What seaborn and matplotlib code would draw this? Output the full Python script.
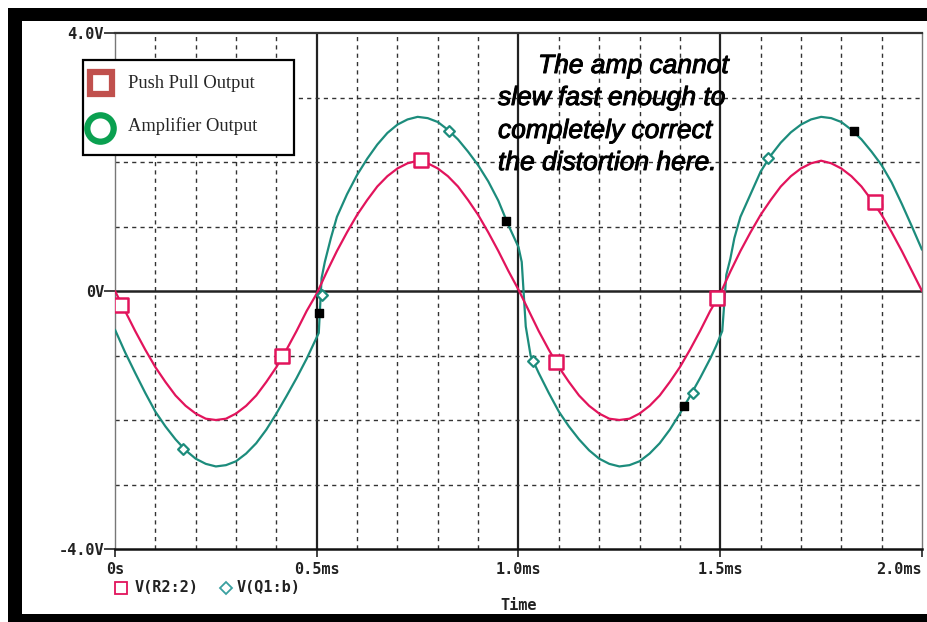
import numpy as np
import pandas as pd
import matplotlib
matplotlib.use("Agg")
import matplotlib.pyplot as plt
from matplotlib.patches import Rectangle
from matplotlib.lines import Line2D
import matplotlib.patheffects as pe
import seaborn as sns

# ---------------- data ----------------
pink_t = [round(0.025 * i, 3) for i in range(81)]
pink_v = [0.00, -0.31, -0.62, -0.91, -1.18, -1.41, -1.62, -1.78, -1.90, -1.98, -2.00,
          -1.98, -1.90, -1.78, -1.62, -1.41, -1.18, -0.91, -0.62, -0.31, -0.04,
          0.30, 0.62, 0.91, 1.18, 1.41, 1.62, 1.78, 1.90, 1.98, 2.02,
          1.98, 1.90, 1.78, 1.62, 1.41, 1.18, 0.91, 0.62, 0.31, 0.02,
          -0.30, -0.62, -0.91, -1.18, -1.41, -1.62, -1.78, -1.90, -1.98, -2.00,
          -1.98, -1.90, -1.78, -1.62, -1.41, -1.18, -0.91, -0.62, -0.31, -0.04,
          0.30, 0.62, 0.91, 1.18, 1.41, 1.62, 1.78, 1.90, 1.98, 2.02,
          1.98, 1.90, 1.78, 1.62, 1.41, 1.18, 0.91, 0.62, 0.31, 0.00]

teal_t = [0.000, 0.025, 0.050, 0.075, 0.100, 0.125, 0.150, 0.175, 0.200, 0.225,
          0.250, 0.275, 0.300, 0.325, 0.350, 0.375, 0.400, 0.425, 0.450, 0.475,
          0.490, 0.505, 0.512, 0.520, 0.535, 0.550, 0.575, 0.600, 0.625, 0.650,
          0.675, 0.700, 0.725, 0.750, 0.775, 0.800, 0.825, 0.850, 0.875, 0.900,
          0.925, 0.950, 0.975, 1.000, 1.008, 1.018, 1.030, 1.050, 1.075, 1.100,
          1.125, 1.150, 1.175, 1.200, 1.225, 1.250, 1.275, 1.300, 1.325, 1.350,
          1.375, 1.400, 1.425, 1.450, 1.475, 1.490, 1.505, 1.515, 1.525, 1.535,
          1.550, 1.575, 1.600, 1.625, 1.650, 1.675, 1.700, 1.725, 1.750, 1.775,
          1.800, 1.825, 1.850, 1.875, 1.900, 1.925, 1.950, 1.975, 2.000]
teal_v = [-0.60, -0.95, -1.27, -1.58, -1.87, -2.10, -2.30, -2.47, -2.60, -2.68,
          -2.72, -2.70, -2.64, -2.52, -2.36, -2.15, -1.90, -1.63, -1.35, -1.05,
          -0.85, -0.65, 0.20, 0.45, 0.82, 1.15, 1.50, 1.80, 2.05, 2.27,
          2.45, 2.58, 2.66, 2.70, 2.68, 2.62, 2.50, 2.35, 2.16, 1.95,
          1.70, 1.40, 1.02, 0.68, 0.45, -0.55, -1.00, -1.27, -1.58, -1.87,
          -2.10, -2.30, -2.47, -2.60, -2.68, -2.72, -2.70, -2.64, -2.52, -2.36,
          -2.15, -1.90, -1.63, -1.35, -1.05, -0.85, -0.62, 0.25, 0.50, 0.82,
          1.15, 1.50, 1.85, 2.10, 2.30, 2.46, 2.58, 2.66, 2.70, 2.68,
          2.62, 2.50, 2.35, 2.16, 1.95, 1.68, 1.35, 1.00, 0.64]

pink_mark_t = [0.015, 0.414, 0.758, 1.093, 1.492, 1.883]
pink_mark_v = [-0.22, -1.00, 2.03, -1.10, -0.11, 1.38]
teal_mark_t = [0.169, 0.513, 0.828, 1.036, 1.432, 1.618]
teal_mark_v = [-2.45, -0.06, 2.48, -1.09, -1.58, 2.06]
cursor_t = [0.506, 0.969, 1.410, 1.831]
cursor_v = [-0.34, 1.09, -1.78, 2.48]

y_ticks = [-4, 0, 4]
y_labels = ["-4.0V", "0V", "4.0V"]
x_ticks = [0.0, 0.5, 1.0, 1.5, 2.0]
x_labels = ["0s", "0.5ms", "1.0ms", "1.5ms", "2.0ms"]

annotation_lines = ["The amp cannot", "slew fast enough to",
                    "completely correct", "the distortion here."]

PINK = "#e2145c"
TEAL = "#1c8c7c"

sns.set_style("white")
plt.rcParams["font.family"] = ["DejaVu Sans"]

W, H = 928, 622
fig = plt.figure(figsize=(W / 100, H / 100), dpi=100)
ax = fig.add_axes([115 / W, 1 - 549 / H, (922 - 115) / W, (549 - 33) / H])

# grid
for gx in np.arange(0.1, 2.0, 0.1):
    if abs(gx - round(gx * 2) / 2) < 1e-6:
        ax.axvline(gx, color="#222222", lw=1.6, zorder=1)
    else:
        ax.axvline(gx, color="#333333", lw=1.0, ls=(0, (3, 3)), zorder=1)
for gy in [-3, -2, -1, 1, 2, 3]:
    ax.axhline(gy, color="#333333", lw=1.0, ls=(0, (3, 3)), zorder=1)
ax.axhline(0, color="#222222", lw=1.8, zorder=1)

df_p = pd.DataFrame({"t": pink_t, "v": pink_v})
df_q = pd.DataFrame({"t": teal_t, "v": teal_v})
sns.lineplot(data=df_q, x="t", y="v", ax=ax, color=TEAL, lw=1.6, zorder=3)
sns.lineplot(data=df_p, x="t", y="v", ax=ax, color=PINK, lw=1.6, zorder=3)

ax.scatter(pink_mark_t, pink_mark_v, marker="s", s=90, facecolor="white",
           edgecolor=PINK, linewidth=1.8, zorder=5)
ax.scatter(teal_mark_t, teal_mark_v, marker="D", s=30, facecolor="white",
           edgecolor=TEAL, linewidth=1.6, zorder=5)
ax.scatter(cursor_t, cursor_v, marker="s", s=28, color="black", zorder=6)

ax.set_xlim(0, 2.0)
ax.set_ylim(-4, 4)
ax.set_xlabel("")
ax.set_ylabel("")
mono = {"family": "DejaVu Sans Mono", "weight": "bold", "size": 11}
ax.set_yticks(y_ticks)
ax.set_yticklabels(y_labels, fontdict=mono, color="#222222")
ax.set_xticks(x_ticks)
ax.set_xticklabels(x_labels, fontdict=mono, color="#222222")
xl = ax.get_xticklabels()
xl[-1].set_ha("right")
ax.tick_params(axis="y", length=8, width=1.2, color="#222222", pad=0, left=True)
ax.tick_params(axis="x", length=6, width=1.2, color="#222222", pad=3, bottom=True)
for s in ["left", "right"]:
    ax.spines[s].set_color("#777777")
    ax.spines[s].set_linewidth(1.0)
ax.spines["top"].set_color("#333333")
ax.spines["top"].set_linewidth(1.6)
ax.spines["bottom"].set_color("#111111")
ax.spines["bottom"].set_linewidth(1.8)

# annotation
ann_x = [538, 498, 498, 498]
ann_y = [66, 98, 131, 163]
for line, x, y in zip(annotation_lines, ann_x, ann_y):
    fig.text(x / W, 1 - y / H, line, family="Liberation Sans",
             style="italic", size=19, color="black", va="center", ha="left",
             path_effects=[pe.withStroke(linewidth=0.7, foreground="black")])

# top-left legend box
fig.patches.append(Rectangle((83 / W, 1 - 155 / H), (294 - 83) / W, (155 - 60) / H,
                             transform=fig.transFigure, facecolor="white",
                             edgecolor="black", lw=1.6, zorder=10))
fig.add_artist(Line2D([101 / W], [1 - 83 / H], marker="s", ms=16, mfc="white",
                      mec="#c0504d", mew=4.5, transform=fig.transFigure, zorder=11))
fig.add_artist(Line2D([100 / W], [1 - 128 / H], marker="o", ms=19, mfc="white",
                      mec="#0aa050", mew=4.5, transform=fig.transFigure, zorder=11))
fig.text(128 / W, 1 - 83 / H, "Push Pull Output", family="Liberation Serif",
         size=13.3, va="center", ha="left", zorder=12)
fig.text(128 / W, 1 - 126 / H, "Amplifier Output", family="Liberation Serif",
         size=13.3, va="center", ha="left", zorder=12)

# bottom legend
fig.add_artist(Line2D([121 / W], [1 - 588 / H], marker="s", ms=9, mfc="white",
                      mec=PINK, mew=1.3, transform=fig.transFigure))
fig.text(135 / W, 1 - 588 / H, "V(R2:2)", fontdict=mono, va="center", ha="left", color="#222222")
fig.add_artist(Line2D([226 / W], [1 - 588 / H], marker="D", ms=6, mfc="white",
                      mec="#3aa0a0", mew=1.3, transform=fig.transFigure))
fig.text(237 / W, 1 - 588 / H, "V(Q1:b)", fontdict=mono, va="center", ha="left", color="#222222")
fig.text(519 / W, 1 - 606 / H, "Time", fontdict=mono, va="center", ha="center", color="#222222")

# black frame bands
for (x0, y0, x1, y1) in [(8, 8, 928, 21), (8, 8, 22, 622), (8, 614, 928, 622)]:
    fig.patches.append(Rectangle((x0 / W, 1 - y1 / H), (x1 - x0) / W, (y1 - y0) / H,
                                 transform=fig.transFigure, facecolor="black",
                                 edgecolor="none", zorder=20))

fig.savefig("out.png", dpi=100)
